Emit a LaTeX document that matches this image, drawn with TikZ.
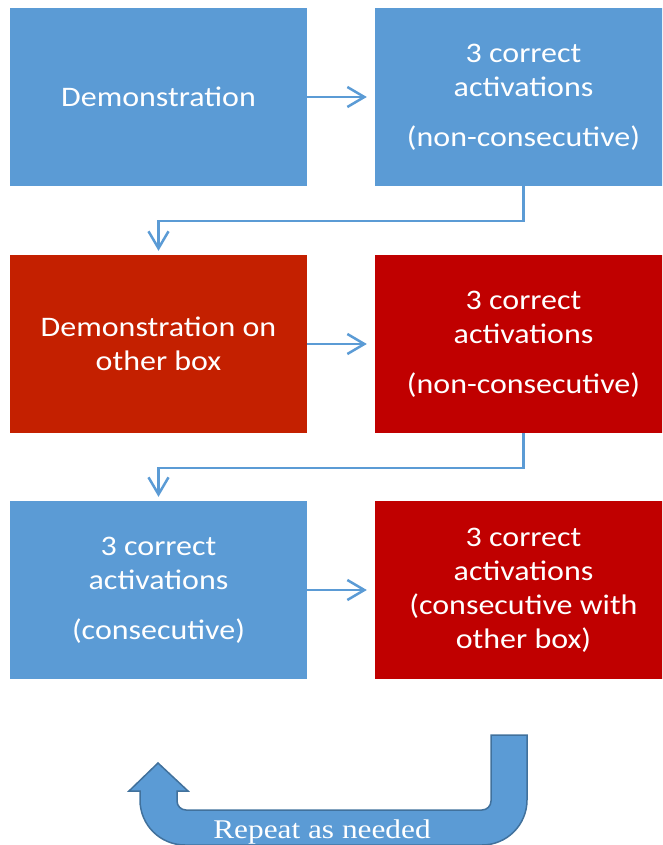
\documentclass[tikz,border=0pt]{standalone}
\usepackage{fontspec}
\newfontfamily\boxfont[FakeStretch=1.13]{Carlito}
\newfontfamily\repfont[FakeStretch=1.16]{Liberation Serif}
\usetikzlibrary{arrows.meta}
\definecolor{bblue}{HTML}{5B9BD5}
\definecolor{rleft}{HTML}{C42000}
\definecolor{rred}{HTML}{C00000}
\definecolor{bdark}{HTML}{41719C}
\begin{document}
\begin{tikzpicture}[x=1pt,y=-1pt,
  box/.style={fill=#1, draw=none, inner sep=0pt, minimum width=297pt, minimum height=178pt,
    text=white, font=\boxfont\fontsize{28.3}{34}\selectfont, align=center},
  conn/.style={draw=bblue, line width=2.5pt, -{Straight Barb[length=17pt,width=20pt]}}]
\useasboundingbox (0,0) rectangle (662,845);
\clip (0,0) rectangle (662,845);
% boxes
\node[box=bblue] (A) at (158.5,97) {Demonstration};
\node[box=bblue] (B) at (523.5,97) {3 correct\\activations\\[16pt](non-consecutive)};
\node[box=rleft] (C) at (158.5,344) {Demonstration on\\other box};
\node[box=rred]  (D) at (523.5,344) {3 correct\\activations\\[16pt](non-consecutive)};
\node[box=bblue] (E) at (158.5,590) {3 correct\\activations\\[16pt](consecutive)};
\node[box=rred]  (F) at (523.5,590) {3 correct\\activations\\(consecutive with\\other box)};
% connectors
\draw[conn, shorten >=8pt] (A.east) -- (B.west);
\draw[conn, shorten >=8pt] (C.east) -- (D.west);
\draw[conn, shorten >=8pt] (E.east) -- (F.west);
\draw[conn, shorten >=4pt] (B.south) -- ++(0,35) -| (C.north);
\draw[conn, shorten >=4pt] (D.south) -- ++(0,35) -| (E.north);
% U-turn arrow
\path[draw=bdark, fill=bblue, line width=1.5pt]
  (491,735) -- (527,735) -- (527,800)
  arc[start angle=0, end angle=-90, radius=45pt] -- (185,845)
  arc[start angle=-90, end angle=-180, radius=45pt] -- (140,791)
  -- (129,791) -- (158,763) -- (188,791) -- (177,791) -- (177,801)
  arc[start angle=180, end angle=270, radius=9pt] -- (482,810)
  arc[start angle=270, end angle=360, radius=9pt] -- cycle;
\node[text=white, font=\repfont\fontsize{27}{30}\selectfont, anchor=base, inner sep=0pt] (rep) at (322,838) {Repeat as needed};
\end{tikzpicture}
\end{document}
